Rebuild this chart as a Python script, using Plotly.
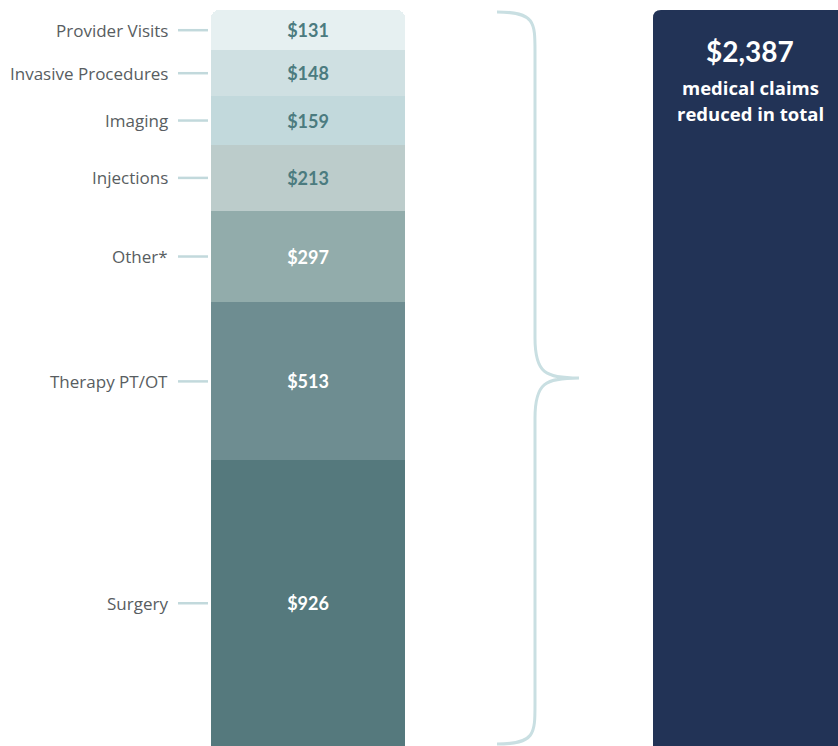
import plotly.graph_objects as go

# ---- data ----
categories = ["Surgery", "Therapy PT/OT", "Other*", "Injections", "Imaging",
              "Invasive Procedures", "Provider Visits"]
values = [926, 513, 297, 213, 159, 148, 131]
colors = ["#55797d", "#6e8d91", "#92acab", "#bccccb", "#c2d9dc", "#cfe0e2", "#e6f0f1"]
text_colors = ["#ffffff", "#ffffff", "#ffffff", "#4b7b7f", "#4b7b7f", "#4b7b7f", "#4b7b7f"]
total = sum(values)
caption_lines = ["medical claims", "reduced in total"]

W, H = 838, 746
BAR_X, BAR_W = 308, 194
TOTAL_X = 750
FONT = "Lato"
LABEL_FONT = "Open Sans"

# y range so that bar top sits 10px below the top edge
ymax = total * H / (H - 10)
px = total / (H - 10)  # data units per pixel

fig = go.Figure()
for cat, v, c, tc in zip(categories, values, colors, text_colors):
    fig.add_trace(go.Bar(
        x=[BAR_X], y=[v], width=BAR_W, name=cat,
        marker=dict(color=c, line=dict(width=0)),
        text=[f"${v:,}"], textposition="inside", insidetextanchor="middle",
        textangle=0, constraintext="none",
        textfont=dict(family=FONT, size=18, color=tc, weight="bold"),
        hoverinfo="skip", showlegend=False,
    ))

# total box (dark), spanning 0..total, extends past the right edge
bx0, bx1 = TOTAL_X - BAR_W / 2, TOTAL_X + BAR_W / 2
rc = 8
box = (f"M {bx0},0 L {bx0},{total - rc*px} Q {bx0},{total} {bx0 + rc},{total} "
       f"L {bx1},{total} L {bx1},0 Z")
fig.add_shape(type="path", path=box, fillcolor="#223356", line=dict(width=0), layer="below")

# labels + leader lines
cum = 0
for cat, v in zip(categories, values):
    mid = cum + v / 2
    cum += v
    fig.add_annotation(x=170, y=mid, text=cat, showarrow=False, xanchor="right",
                       yanchor="middle", font=dict(family=LABEL_FONT, size=17, color="#585d61"))
    fig.add_shape(type="line", x0=178, x1=208, y0=mid, y1=mid,
                  line=dict(color="#c2d9dc", width=2.5))

# brace (in data coords spanning 0..total)
top, bot, mid = total - 2 * px, 2 * px, total / 2
xl, xm, xt = 497, 535, 579
r = 40 * px
path = (f"M {xl},{top} C {xm},{top} {xm},{top - 10*px} {xm},{top - r} "
        f"L {xm},{mid + r} C {xm},{mid + 5*px} {xm + 10},{mid} {xt},{mid} "
        f"C {xm + 10},{mid} {xm},{mid - 5*px} {xm},{mid - r} "
        f"L {xm},{bot + r} C {xm},{bot + 10*px} {xm},{bot} {xl},{bot}")
fig.add_shape(type="path", path=path, line=dict(color="#c9dfe2", width=3))

# total text
fig.add_annotation(x=TOTAL_X, y=ymax - 51 * px, text=f"<b>${total:,}</b>", showarrow=False,
                   xanchor="center", yanchor="middle",
                   font=dict(family=FONT, size=28, color="#ffffff"))
for i, line in enumerate(caption_lines):
    fig.add_annotation(x=TOTAL_X, y=ymax - (87 + 26 * i) * px, text=f"<b>{line}</b>",
                       showarrow=False, xanchor="center", yanchor="middle",
                       font=dict(family=LABEL_FONT, size=18.5, color="#ffffff"))

fig.update_layout(
    width=W, height=H, margin=dict(l=0, r=0, t=0, b=0),
    barmode="stack", barcornerradius=8,
    paper_bgcolor="white", plot_bgcolor="white",
    xaxis=dict(range=[0, W], visible=False, fixedrange=True),
    yaxis=dict(range=[0, ymax], visible=False, fixedrange=True),
    showlegend=False,
)
fig.write_html("out.html", config={"displayModeBar": False},
               post_script="document.body.style.margin='0';")
